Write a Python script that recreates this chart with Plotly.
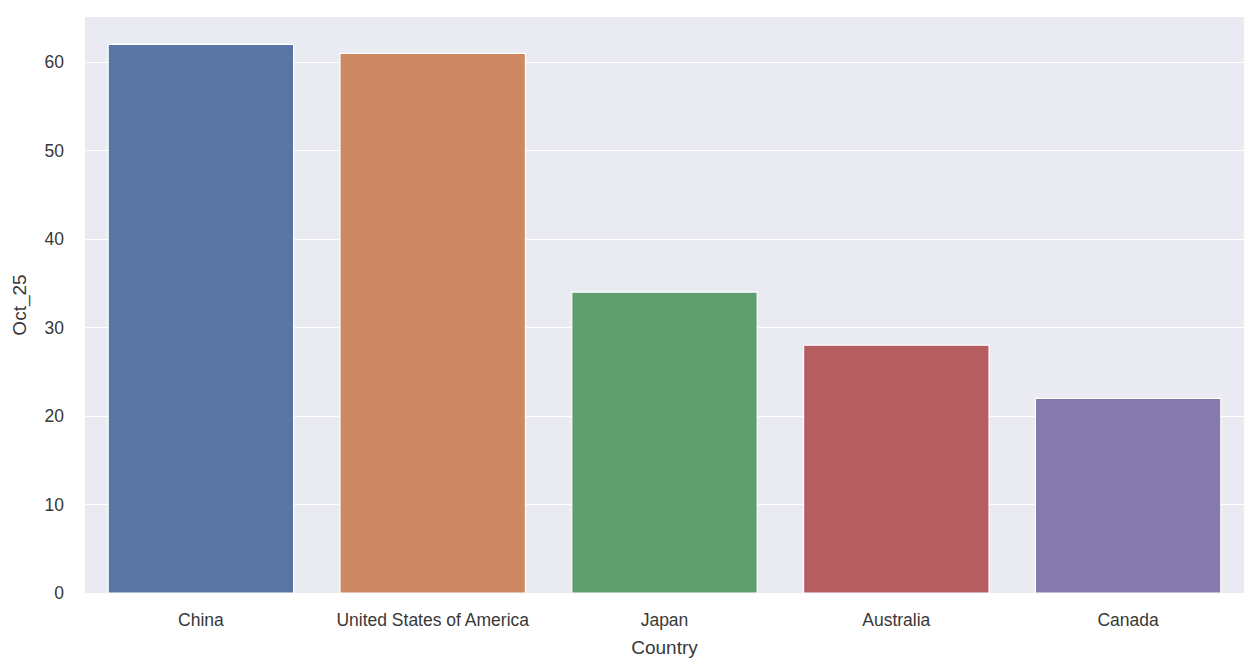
import plotly.graph_objects as go

countries = ["China", "United States of America", "Japan", "Australia", "Canada"]
values = [62, 61, 34, 28, 22]
colors = ["#5975a4", "#cc8963", "#5f9e6e", "#b55d60", "#857aab"]

fig = go.Figure(go.Bar(
    x=countries, y=values,
    marker=dict(color=colors, line=dict(color="white", width=1.2)),
    width=0.8,
))

font = dict(family="Liberation Sans, Arial, sans-serif", size=17.5, color="#383838")
fig.update_layout(
    width=1256, height=672,
    margin=dict(l=77, r=20, t=9, b=87),
    paper_bgcolor="white",
    plot_bgcolor="#eaeaf2",
    font=font,
    showlegend=False,
    bargap=0.2,
    xaxis=dict(
        title=dict(text="Country", font=dict(size=19), standoff=12),
        showgrid=False, zeroline=False, ticks="", ticklabelstandoff=14,
        range=[-0.5, 4.5],
    ),
    yaxis=dict(
        title=dict(text="Oct_25", font=dict(size=19), standoff=12),
        range=[0, 65.1],
        tickvals=[0, 10, 20, 30, 40, 50, 60],
        gridcolor="white", gridwidth=1.2, zeroline=False, ticks="",
        ticklabelstandoff=20,
    ),
)

fig.write_html("out.html")
